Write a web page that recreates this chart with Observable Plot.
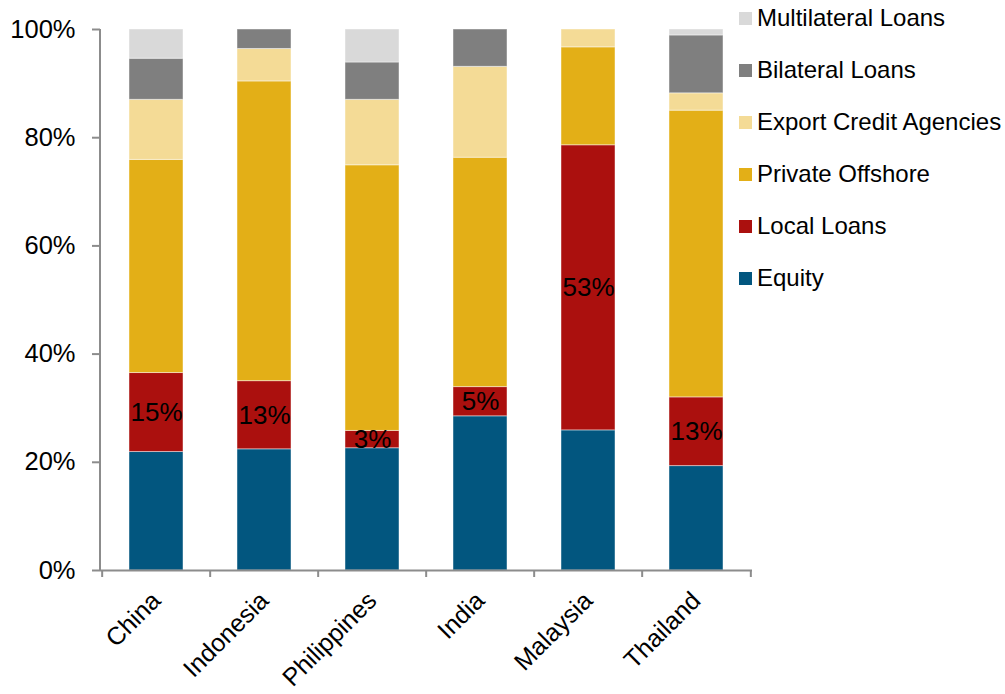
<!DOCTYPE html>
<html>
<head>
<meta charset="utf-8">
<script src="https://cdn.jsdelivr.net/npm/d3@7"></script>
<script src="https://cdn.jsdelivr.net/npm/@observablehq/plot@0.6"></script>
<style>
  html, body { margin: 0; padding: 0; background: #fff; }
  #wrap { position: relative; width: 1005px; height: 694px; font-family: "Liberation Sans", Arial, sans-serif; }
  #legend { position: absolute; left: 739px; top: 0; }
  .item { position: absolute; left: 0; white-space: nowrap; height: 26px; display: flex; align-items: center; font-size: 24px; color: #000; }
  .sw { width: 13px; height: 13px; margin-right: 5px; flex: none; }
</style>
</head>
<body>
<div id="wrap"><div id="chart"></div><div id="legend"></div></div>
<script>
const countries = ["China", "Indonesia", "Philippines", "India", "Malaysia", "Thailand"];
const seriesNames = ["Equity", "Local Loans", "Private Offshore", "Export Credit Agencies", "Bilateral Loans", "Multilateral Loans"];
const seriesColors = ["#02567f", "#ab100e", "#e3af17", "#f4db96", "#7f7f7f", "#d9d9d9"];
// values in percent, per country (same order as countries)
const equity       = [21.9, 22.4, 22.6, 28.5, 25.9, 19.3];
const localLoans   = [14.6, 12.6,  3.2,  5.4, 52.7, 12.7];
const privateOff   = [39.4, 55.4, 49.1, 42.4, 18.1, 53.0];
const exportCredit = [11.1,  6.0, 12.1, 16.8,  3.3,  3.2];
const bilateral    = [ 7.6,  3.6,  6.9,  6.9,  0.0, 10.7];
const multilateral = [ 5.4,  0.0,  6.1,  0.0,  0.0,  1.1];
const yTicks = [0, 0.2, 0.4, 0.6, 0.8, 1.0];
const labelSeries = "Local Loans";

const seriesValues = [equity, localLoans, privateOff, exportCredit, bilateral, multilateral];
const data = [];
seriesNames.forEach((s, si) => {
  countries.forEach((c, ci) => {
    data.push({country: c, series: s, value: seriesValues[si][ci] / 100});
  });
});

const font = "Liberation Sans, Arial, sans-serif";
const axisGray = "#8c8c8c";
const step = (1005 - 100 - 253) / countries.length;

const yLine = (index, scales, values, dimensions) => {
  const line = document.createElementNS("http://www.w3.org/2000/svg", "line");
  const x = dimensions.marginLeft;
  line.setAttribute("x1", x); line.setAttribute("x2", x);
  line.setAttribute("y1", scales.y(1)); line.setAttribute("y2", scales.y(0));
  line.setAttribute("stroke", axisGray); line.setAttribute("stroke-width", 2);
  return line;
};

const chart = Plot.plot({
  width: 1005,
  height: 694,
  marginLeft: 100,
  marginRight: 253,
  marginTop: 29,
  marginBottom: 124,
  style: {fontFamily: font, background: "white", color: "black", overflow: "visible"},
  x: {domain: countries, paddingInner: 0.5, paddingOuter: 0.25, label: null},
  y: {domain: [0, 1], label: null},
  color: {domain: seriesNames, range: seriesColors},
  marks: [
    Plot.barY(data, Plot.stackY({x: "country", y: "value", z: "series", fill: "series", stroke: "#ffffff", strokeOpacity: 0.45, strokeWidth: 1})),
    Plot.text(data, Plot.stackY({x: "country", y: "value", z: "series",
      text: d => d.series === labelSeries ? Math.round(d.value * 100) + "%" : "",
      fontSize: 26, fill: "black", fontFamily: font})),
    Plot.ruleY([0], {stroke: axisGray, strokeWidth: 2}),
    yLine,
    Plot.axisY({ticks: yTicks, tickFormat: d => Math.round(d * 100) + "%", tickSize: 8, tickPadding: 17,
      fontSize: 25.5, stroke: axisGray, strokeWidth: 2, fill: "black", label: null}),
    Plot.axisX({tickSize: 7, text: null, dx: -step / 2, stroke: axisGray, strokeWidth: 2, label: null}),
    Plot.axisX({ticks: [countries[countries.length - 1]], tickSize: 7, text: null, dx: step / 2, stroke: axisGray, strokeWidth: 2, label: null}),
    Plot.axisX({tickSize: 0, tickRotate: -45, tickPadding: 14, fontSize: 25, fill: "black", label: null, dx: 0, dy: 12})
  ]
});
document.getElementById("chart").appendChild(chart);

const legend = document.getElementById("legend");
const order = seriesNames.slice().reverse();
const colors = seriesColors.slice().reverse();
order.forEach((s, i) => {
  const item = document.createElement("div");
  item.className = "item";
  item.style.top = (18 + i * 52 - 13) + "px";
  const sw = document.createElement("span");
  sw.className = "sw";
  sw.style.background = colors[i];
  const t = document.createElement("span");
  t.textContent = s;
  item.appendChild(sw); item.appendChild(t);
  legend.appendChild(item);
});
</script>
</body>
</html>
